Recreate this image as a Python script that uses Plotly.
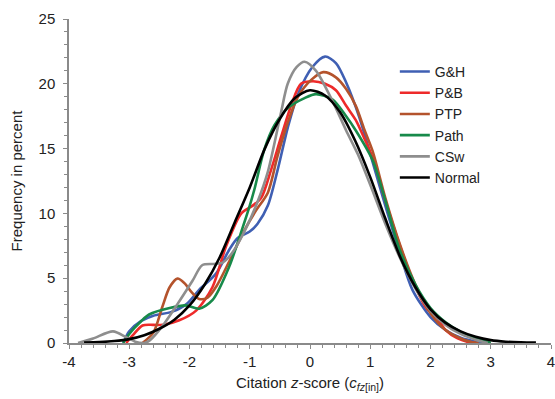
import plotly.graph_objects as go

# ---- data ----
gh_x = [-3.1, -3.0, -2.8, -2.6, -2.3, -2.05, -1.84, -1.56, -1.34, -1.2, -1.0, -0.87, -0.7, -0.54, -0.37, -0.2, 0.04, 0.25, 0.43, 0.6, 0.82, 1.0, 1.25, 1.5, 1.7, 2.0, 2.25, 2.5, 2.75, 2.9]
gh_y = [0, 0.9, 1.7, 2.1, 2.4, 3.0, 4.1, 5.35, 7.2, 8.1, 8.6, 9.2, 10.6, 13.3, 16.6, 19.2, 21.3, 22.1, 21.6, 20.1, 17.4, 14.6, 10.6, 6.8, 4.1, 2.0, 1.0, 0.4, 0.1, 0]

pb_x = [-3.05, -2.94, -2.78, -2.6, -2.44, -2.17, -1.89, -1.62, -1.39, -1.14, -0.95, -0.81, -0.65, -0.48, -0.3, -0.15, 0.05, 0.25, 0.43, 0.6, 0.76, 0.9, 1.04, 1.25, 1.5, 1.75, 1.95, 2.05, 2.25, 2.45, 2.65, 2.75]
pb_y = [0, 0.6, 1.35, 1.4, 1.4, 1.75, 2.5, 4.3, 7.5, 10.0, 10.6, 11.2, 13.3, 15.9, 18.5, 20.0, 20.2, 20.0, 19.5, 18.3, 17.2, 15.8, 14.3, 11.0, 7.4, 4.3, 2.6, 2.3, 1.0, 0.35, 0.05, 0]

ptp_x = [-2.78, -2.6, -2.45, -2.33, -2.2, -2.08, -1.98, -1.84, -1.7, -1.55, -1.35, -1.1, -0.9, -0.7, -0.54, -0.37, -0.2, 0.02, 0.22, 0.43, 0.6, 0.76, 0.9, 1.04, 1.25, 1.5, 1.75, 2.0, 2.25, 2.5, 2.7, 2.8]
ptp_y = [0, 0.8, 2.8, 4.3, 4.97, 4.6, 4.0, 3.4, 3.5, 4.4, 6.2, 8.6, 10.2, 11.6, 14.4, 17.0, 19.0, 20.3, 20.9, 20.5, 19.6, 18.3, 16.5, 14.8, 11.2, 7.5, 4.5, 2.3, 1.0, 0.35, 0.05, 0]

path_x = [-3.1, -3.0, -2.8, -2.67, -2.33, -2.06, -1.84, -1.62, -1.34, -1.14, -1.0, -0.92, -0.76, -0.59, -0.35, -0.09, 0.1, 0.37, 0.6, 0.76, 1.04, 1.25, 1.48, 1.75, 2.0, 2.25, 2.5, 2.75, 2.92, 3.0]
path_y = [0, 0.7, 1.7, 2.2, 2.7, 2.9, 2.65, 3.3, 5.9, 8.6, 10.6, 11.9, 14.9, 16.8, 18.2, 18.9, 19.2, 18.8, 17.5, 16.4, 14.1, 11.0, 7.3, 4.5, 2.7, 1.6, 0.85, 0.35, 0.15, 0]

csw_x = [-3.85, -3.6, -3.27, -3.05, -2.9, -2.75, -2.66, -2.45, -2.2, -1.95, -1.79, -1.6, -1.45, -1.3, -1.09, -0.87, -0.7, -0.48, -0.37, -0.22, -0.09, 0.1, 0.37, 0.6, 0.8, 1.0, 1.25, 1.5, 1.75, 2.0, 2.25, 2.5, 2.75, 2.95]
csw_y = [0, 0.35, 0.9, 0.45, 0.1, 0, 0.2, 1.3, 3.0, 4.8, 6.0, 6.1, 6.2, 6.9, 8.6, 10.9, 13.2, 17.8, 20.0, 21.3, 21.7, 21.0, 18.7, 16.4, 14.5, 12.2, 9.2, 6.5, 4.2, 2.5, 1.4, 0.7, 0.25, 0]

norm_x = [-3.75, -3.5, -3.25, -3.0, -2.75, -2.5, -2.25, -2.0, -1.75, -1.5, -1.25, -1.0, -0.75, -0.5, -0.25, 0.0, 0.25, 0.5, 0.75, 1.0, 1.25, 1.5, 1.75, 2.0, 2.25, 2.5, 2.75, 3.0, 3.25, 3.5, 3.75]
norm_y = [0.03, 0.07, 0.15, 0.3, 0.6, 1.1, 1.8, 2.9, 4.5, 6.6, 9.3, 12.0, 15.0, 17.3, 18.9, 19.5, 19.1, 17.8, 15.6, 12.8, 9.6, 6.6, 4.3, 2.6, 1.55, 0.9, 0.48, 0.22, 0.1, 0.05, 0.03]

names = ["G&H", "P&B", "PTP", "Path", "CSw", "Normal"]
colors = ["#3f5fb3", "#ee2a2a", "#b4532c", "#178a4a", "#8e8e8e", "#000000"]
xs = [gh_x, pb_x, ptp_x, path_x, csw_x, norm_x]
ys = [gh_y, pb_y, ptp_y, path_y, csw_y, norm_y]

x_ticks = [-4, -3, -2, -1, 0, 1, 2, 3, 4]
y_ticks = [0, 5, 10, 15, 20, 25]

fig = go.Figure()
for n, c, x, y in zip(names, colors, xs, ys):
    fig.add_trace(go.Scatter(x=x, y=y, name=n, mode="lines",
                             line=dict(color=c, width=2.6, shape="spline", smoothing=0.8)))

font_family = "Liberation Sans, Arial, Helvetica, sans-serif"
axis_common = dict(showgrid=False, zeroline=False, showline=True, linecolor="#8a8a8a",
                   linewidth=1.5, ticks="outside", tickcolor="#8a8a8a", ticklen=4,
                   ticklabeloverflow="allow",
                   tickfont=dict(size=15, color="#222222", family=font_family))

fig.update_xaxes(range=[-4, 4], tickvals=x_ticks, ticktext=[str(v) for v in x_ticks],
                 automargin=False,
                 minor=dict(dtick=0.2, ticks="outside", ticklen=3, tickcolor="#8a8a8a"),
                 title=dict(text="Citation <i>z</i>-score (<i>c</i><sub><i>fz</i>[in]</sub>)",
                            font=dict(size=15, color="#222222", family=font_family), standoff=9),
                 **axis_common)
fig.update_yaxes(range=[0, 25], tickvals=y_ticks, ticktext=[str(v) for v in y_ticks],
                 minor=dict(dtick=1, ticks="outside", ticklen=3, tickcolor="#8a8a8a"),
                 ticklabelstandoff=5,
                 title=dict(text="Frequency in percent",
                            font=dict(size=15, color="#222222", family=font_family), standoff=12),
                 **axis_common)

fig.update_layout(
    width=555, height=399,
    margin=dict(l=69, r=4, t=19, b=56),
    plot_bgcolor="white", paper_bgcolor="white",
    font=dict(family=font_family, color="#222222"),
    legend=dict(x=0.676, y=0.886, xanchor="left", yanchor="top",
                bgcolor="rgba(0,0,0,0)", font=dict(size=14, color="#222222", family=font_family),
                tracegroupgap=0),
)

fig.write_html("out.html")
